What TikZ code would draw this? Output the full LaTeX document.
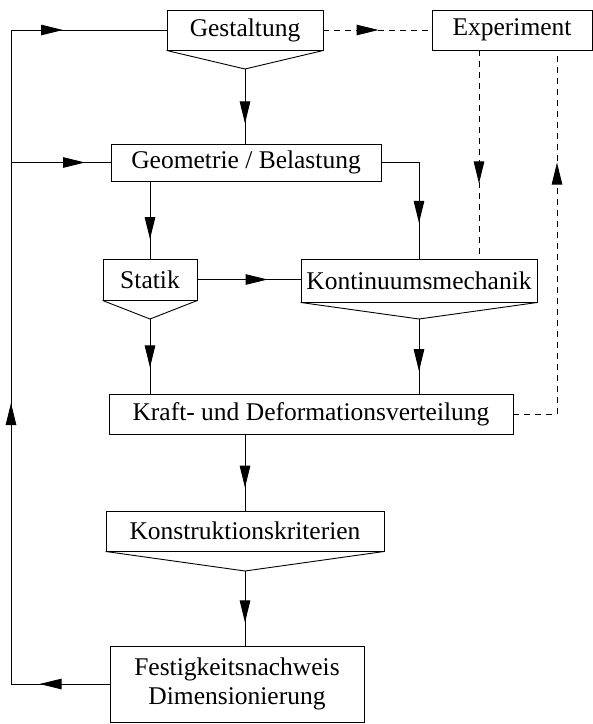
\documentclass[tikz,border=0pt]{standalone}
\usepackage{fontspec}
\setmainfont{Liberation Serif}
\usetikzlibrary{arrows.meta,decorations.markings}
\tikzset{
  box/.style={draw, line width=0.9pt, rectangle, inner sep=0pt, font=\fontsize{25.5}{29}\selectfont, align=center},
  conn/.style={line width=0.9pt},
  dconn/.style={line width=0.9pt, dash pattern=on 6pt off 5pt},
  arr/.style={postaction={decorate}, decoration={markings, mark=at position #1 with {\arrow{Triangle[length=22pt,width=10.5pt]}}}},
}
\begin{document}
\begin{tikzpicture}[x=1pt,y=-1pt]
\useasboundingbox (0,0) rectangle (593,724);
% boxes
\node[box, minimum width=156pt, minimum height=40pt] (G) at (245,30) {Gestaltung};
\node[box, minimum width=160pt, minimum height=40pt] (E) at (512,30) {Experiment};
\node[box, minimum width=270pt, minimum height=37pt] (B) at (246,162.5) {Geometrie / Belastung};
\node[box, minimum width=94pt, minimum height=41pt] (S) at (150,279.5) {Statik};
\node[box, minimum width=236pt, minimum height=43pt] (K) at (419,280.5) {Kontinuumsmechanik};
\node[box, minimum width=404pt, minimum height=40pt] (D) at (311,414) {Kraft- und Deformationsverteilung};
\node[box, minimum width=278pt, minimum height=40pt] (C) at (245,531) {Konstruktionskriterien};
\node[box, minimum width=254pt, minimum height=76pt] (F) at (237,684) {Festigkeitsnachweis\\Dimensionierung};
% funnel bottoms
\coordinate (Ga) at (245,69);
\coordinate (Sa) at (150,319);
\coordinate (Ka) at (419,319);
\coordinate (Ca) at (245,571);
\draw[conn] (G.south west) -- (Ga) -- (G.south east);
\draw[conn] (S.south west) -- (Sa) -- (S.south east);
\draw[conn] (K.south west) -- (Ka) -- (K.south east);
\draw[conn] (C.south west) -- (Ca) -- (C.south east);
% helper coordinates
\coordinate (L1) at (11,684);
\coordinate (L2) at (11,30);
\coordinate (L3) at (11,162.5);
\coordinate (R1) at (557,414);
\coordinate (Bk) at (419,162.5);
\coordinate (Bs) at (150,181);
\coordinate (Ed) at (479,50);
% solid connectors
\draw[conn, arr=0.73] (Ga) -- (G.south |- B.north);
\draw[conn, arr=0.75] (Bs) -- (S.north);
\draw[conn, arr=98pt] (B.east) -- (Bk) -- (K.north);
\draw[conn, arr=0.68] (S.east) -- (S.east -| K.west);
\draw[conn, arr=0.65] (Sa) -- (Sa |- D.north);
\draw[conn, arr=0.7] (Ka) -- (Ka |- D.north);
\draw[conn, arr=0.7] (C.north |- D.south) -- (C.north);
\draw[conn, arr=0.69] (Ca) -- (Ca |- F.north);
\draw[conn, arr=70pt] (F.west) -- (L1);
\draw[conn, arr=281pt] (L1) -- (L2);
\draw[conn, arr=52pt] (L2) -- (G.west);
\draw[conn, arr=74pt] (L3) -- (B.west);
% dashed connectors
\draw[dconn, arr=0.51] (G.east) -- (E.west);
\draw[dconn, arr=0.64] (Ed) -- (Ed |- K.north);
\draw[dconn, arr=295pt] (D.east) -- (R1) -- (R1 |- E.south);
\end{tikzpicture}
\end{document}
